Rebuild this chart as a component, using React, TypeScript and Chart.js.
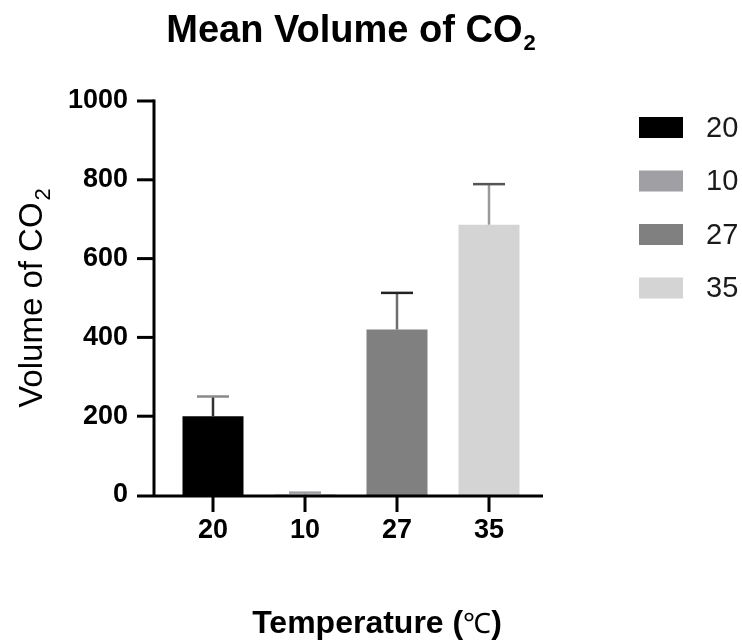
import React, { useEffect, useRef } from "react";
import { Chart, registerables } from "chart.js";

Chart.register(...registerables);

// ---- data ----
const categories = ["20", "10", "27", "35"];
const meanValues = [200, 1, 420, 686];
const errorValues = [50, 5, 93, 103];
const yTickValues = [0, 200, 400, 600, 800, 1000];
const legendLabels = ["20", "10", "27", "35"];

// ---- styles ----
const barColors = ["#000000", "#a0a0a4", "#808080", "#d4d4d4"];
const stemColors = ["#333333", "#a0a0a4", "#6e6e6e", "#9a9a9a"];
const capColors = ["#8a8a8a", "#a0a0a4", "#222222", "#555555"];
const FONT = '"Liberation Sans", Arial, Helvetica, sans-serif';

const decorPlugin = {
  id: "decor",
  afterDatasetsDraw(chart: any) {
    const ctx = chart.ctx;
    const meta = chart.getDatasetMeta(0);
    const ys = chart.scales.y;
    meta.data.forEach((bar: any, i: number) => {
      const x = bar.x;
      const yBar = bar.y;
      const yTop = ys.getPixelForValue(meanValues[i] + errorValues[i]);
      ctx.save();
      ctx.lineWidth = 2.5;
      ctx.strokeStyle = stemColors[i];
      ctx.beginPath();
      ctx.moveTo(x, yBar);
      ctx.lineTo(x, yTop);
      ctx.stroke();
      ctx.strokeStyle = capColors[i];
      ctx.beginPath();
      ctx.moveTo(x - 16, yTop);
      ctx.lineTo(x + 16, yTop);
      ctx.stroke();
      ctx.restore();
    });
  },
  afterDraw(chart: any) {
    const ctx = chart.ctx;
    const area = chart.chartArea;
    const ys = chart.scales.y;
    const xs = chart.scales.x;
    const axisX = area.left - 13;
    const axisY = area.bottom + 1;
    ctx.save();
    ctx.strokeStyle = "#000000";
    ctx.lineWidth = 3;
    ctx.lineCap = "butt";
    // y axis
    const yTopPx = ys.getPixelForValue(yTickValues[yTickValues.length - 1]);
    ctx.beginPath();
    ctx.moveTo(axisX, yTopPx - 1.5);
    ctx.lineTo(axisX, axisY);
    ctx.stroke();
    // y ticks
    yTickValues.forEach((v) => {
      const py = v === 0 ? axisY : ys.getPixelForValue(v);
      ctx.beginPath();
      ctx.moveTo(axisX - 17, py);
      ctx.lineTo(axisX, py);
      ctx.stroke();
    });
    // x axis
    ctx.beginPath();
    ctx.moveTo(axisX, axisY);
    ctx.lineTo(area.right + 8, axisY);
    ctx.stroke();
    // x ticks
    categories.forEach((_c, i) => {
      const px = xs.getPixelForValue(i);
      ctx.beginPath();
      ctx.moveTo(px, axisY);
      ctx.lineTo(px, axisY + 16);
      ctx.stroke();
    });

    // main title
    ctx.fillStyle = "#000000";
    ctx.textBaseline = "alphabetic";
    ctx.textAlign = "left";
    const tMain = "Mean Volume of CO";
    const tSub = "2";
    ctx.font = `bold 38px ${FONT}`;
    const wMain = ctx.measureText(tMain).width;
    ctx.font = `bold 22px ${FONT}`;
    const wSub = ctx.measureText(tSub).width;
    const tx = (area.left + area.right) / 2 - (wMain + 1 + wSub) / 2;
    ctx.font = `bold 38px ${FONT}`;
    ctx.fillText(tMain, tx, 42);
    ctx.font = `bold 22px ${FONT}`;
    ctx.fillText(tSub, tx + wMain + 1, 50);

    // y title (rotated)
    ctx.save();
    ctx.translate(42, (area.top + area.bottom) / 2);
    ctx.rotate(-Math.PI / 2);
    const yMain = "Volume of CO";
    const ySub = "2";
    ctx.font = `33px ${FONT}`;
    const wyMain = ctx.measureText(yMain).width;
    ctx.font = `22px ${FONT}`;
    const wySub = ctx.measureText(ySub).width;
    const sx = -(wyMain + 2 + wySub) / 2;
    ctx.font = `33px ${FONT}`;
    ctx.fillText(yMain, sx, 0);
    ctx.font = `22px ${FONT}`;
    ctx.fillText(ySub, sx + wyMain + 2, 8);
    ctx.restore();

    // x title
    const p1 = "Temperature (";
    const p2 = "\u2103";
    const p3 = ")";
    ctx.font = `bold 32px ${FONT}`;
    const w1 = ctx.measureText(p1).width;
    const w3 = ctx.measureText(p3).width;
    ctx.font = `28px ${FONT}`;
    const w2 = ctx.measureText(p2).width;
    const xStart = (area.left + area.right) / 2 + 26 - (w1 + w2 + w3) / 2;
    ctx.font = `bold 32px ${FONT}`;
    ctx.fillText(p1, xStart, 633);
    ctx.font = `28px ${FONT}`;
    ctx.fillText(p2, xStart + w1, 633);
    ctx.font = `bold 32px ${FONT}`;
    ctx.fillText(p3, xStart + w1 + w2, 633);

    // legend
    const lx = area.right + 104;
    legendLabels.forEach((lab, i) => {
      const cy = 127.5 + i * 53.5;
      ctx.fillStyle = barColors[i];
      ctx.fillRect(lx, cy - 10.5, 44, 21);
      ctx.fillStyle = "#1a1a1a";
      ctx.font = `29px ${FONT}`;
      ctx.textBaseline = "middle";
      ctx.fillText(lab, lx + 67, cy + 1);
    });
    ctx.restore();
  },
};

export default function App() {
  const canvasRef = useRef<HTMLCanvasElement | null>(null);

  useEffect(() => {
    document.body.style.margin = "0";
    document.body.style.overflow = "hidden";
    const canvas = canvasRef.current;
    if (!canvas) return;
    const chart = new Chart(canvas, {
      type: "bar",
      data: {
        labels: categories,
        datasets: [
          {
            data: meanValues,
            backgroundColor: barColors,
            borderWidth: 0,
            barPercentage: 0.663,
            categoryPercentage: 1,
          },
        ],
      },
      options: {
        responsive: false,
        animation: false,
        devicePixelRatio: 1,
        layout: { padding: { top: 101, right: 207, left: 0, bottom: 0 } },
        plugins: {
          legend: { display: false },
          title: { display: false },
          tooltip: { enabled: false },
        },
        scales: {
          x: {
            type: "category",
            grid: { display: false, drawTicks: false },
            border: { display: false },
            ticks: {
              color: "#000000",
              padding: 19,
              font: { family: FONT, size: 27, weight: "bold" },
            },
            afterFit: (scale: any) => {
              scale.height = 145;
            },
          },
          y: {
            type: "linear",
            min: 0,
            max: 1000,
            afterBuildTicks: (scale: any) => {
              scale.ticks = yTickValues.map((v) => ({ value: v }));
            },
            grid: { display: false, drawTicks: false },
            border: { display: false },
            ticks: {
              color: "#000000",
              padding: 39,
              font: { family: FONT, size: 27, weight: "bold" },
              callback: (v: any) => String(v),
            },
            afterFit: (scale: any) => {
              scale.width = 167;
            },
          },
        },
      },
      plugins: [decorPlugin],
    });
    return () => chart.destroy();
  }, []);

  return (
    <div style={{ width: 742, height: 640 }}>
      <canvas ref={canvasRef} width={742} height={640} style={{ display: "block" }} />
    </div>
  );
}
